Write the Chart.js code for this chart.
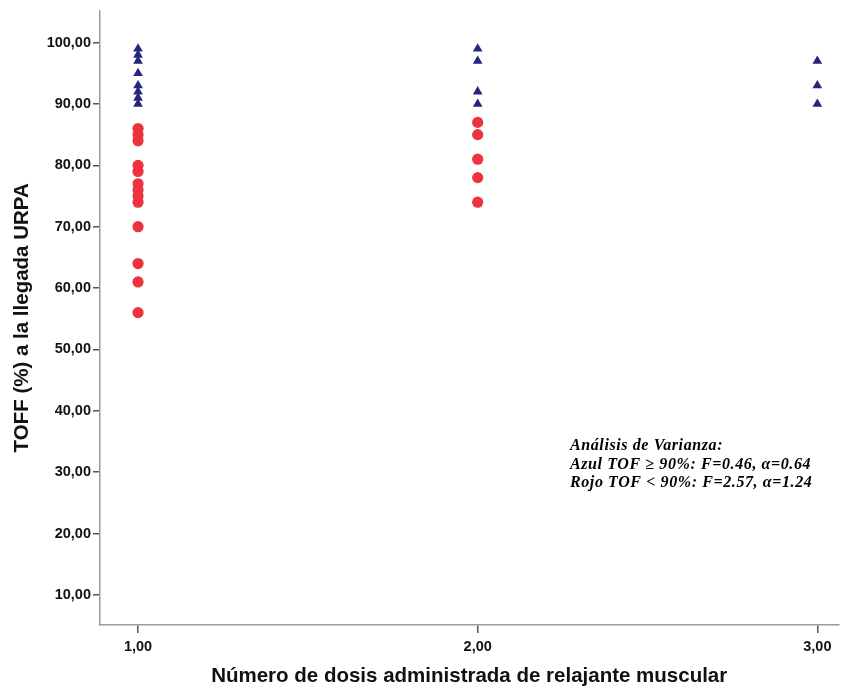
<!DOCTYPE html>
<html lang="es">
<head>
    <meta charset="UTF-8">
    <script src="https://cdn.jsdelivr.net/npm/chart.js@4/dist/chart.umd.min.js"></script>
    <style>
        body { margin: 0; background: #fff; }
        #wrap { width: 844px; height: 689px; }
    </style>
</head>
<body>
    <div id="wrap"><canvas id="myChart" width="844" height="689"></canvas></div>
    <script>
        // dosis (eje X) y valores TOF
        const doses = [1, 2, 3];
        const tofBlue = [
            [99, 98, 97, 95, 93, 92, 91, 90],
            [99, 97, 92, 90],
            [97, 93, 90]
        ];
        const tofRed = [
            [86, 85, 84, 80, 79, 77, 76, 75, 74, 70, 64, 61, 56],
            [87, 85, 81, 78, 74],
            []
        ];
        const yTicks = [10, 20, 30, 40, 50, 60, 70, 80, 90, 100];
        const xTicks = [1, 2, 3];
        const noteLines = [
            'Análisis de Varianza:',
            'Azul TOF ≥ 90%: F=0.46, α=0.64',
            'Rojo TOF < 90%: F=2.57, α=1.24'
        ];

        function toPoints(groups) {
            const pts = [];
            groups.forEach(function (vals, i) {
                vals.forEach(function (v) { pts.push({ x: doses[i], y: v }); });
            });
            return pts;
        }

        const fmt = function (v) { return Number(v).toFixed(2).replace('.', ','); };
        const tickFont = { family: '"Liberation Sans", Arial, sans-serif', size: 14.5, weight: 'bold' };
        const titleFont = { family: '"Liberation Sans", Arial, sans-serif', size: 20.5, weight: 'bold' };

        const notePlugin = {
            id: 'note',
            afterDraw: function (chart) {
                const c = chart.ctx;
                c.save();
                c.font = 'italic bold 16px "Liberation Serif", "Times New Roman", serif';
                c.letterSpacing = '0.6px';
                c.fillStyle = '#000';
                c.textBaseline = 'alphabetic';
                noteLines.forEach(function (t, i) {
                    c.fillText(t, 570, 450 + i * 18.5);
                });
                c.restore();
            }
        };

        const ctx = document.getElementById('myChart');
        new Chart(ctx, {
            type: 'scatter',
            data: {
                datasets: [
                    {
                        label: 'TOF >= 90%',
                        data: toPoints(tofBlue),
                        pointStyle: 'triangle',
                        pointRadius: 5.6,
                        borderWidth: 0,
                        backgroundColor: '#25267d',
                        borderColor: '#25267d'
                    },
                    {
                        label: 'TOF < 90%',
                        data: toPoints(tofRed),
                        pointStyle: 'circle',
                        pointRadius: 5.6,
                        borderWidth: 0,
                        backgroundColor: '#ee3340',
                        borderColor: '#ee3340'
                    }
                ]
            },
            options: {
                responsive: false,
                animation: false,
                layout: { padding: { top: 8, right: 0, left: 0, bottom: 0 } },
                plugins: {
                    legend: { display: false },
                    tooltip: { enabled: false }
                },
                scales: {
                    x: {
                        type: 'linear',
                        min: 0.888,
                        max: 3.062,
                        afterFit: function (s) { s.height = 64; },
                        afterBuildTicks: function (s) { s.ticks = xTicks.map(function (v) { return { value: v }; }); },
                        grid: { drawOnChartArea: false, drawTicks: true, tickLength: 8, color: '#555', lineWidth: 1.5 },
                        border: { display: true, color: '#999', width: 1.5 },
                        ticks: { color: '#111', font: tickFont, padding: 5, callback: fmt, maxRotation: 0 },
                        title: { display: true, text: 'Número de dosis administrada de relajante muscular', color: '#111', font: titleFont, padding: { top: 0, bottom: 0 } }
                    },
                    y: {
                        min: 5.1,
                        max: 105.2,
                        afterFit: function (s) { s.width = 100; },
                        afterBuildTicks: function (s) { s.ticks = yTicks.map(function (v) { return { value: v }; }); },
                        grid: { drawOnChartArea: false, drawTicks: true, tickLength: 7, color: '#555', lineWidth: 1.5 },
                        border: { display: true, color: '#999', width: 1.5 },
                        ticks: { color: '#111', font: tickFont, padding: 2, callback: fmt },
                        title: { display: true, text: 'TOFF (%) a la llegada URPA', color: '#111', font: titleFont, padding: { top: 10, bottom: 0 } }
                    }
                }
            },
            plugins: [notePlugin]
        });
    </script>
</body>
</html>
